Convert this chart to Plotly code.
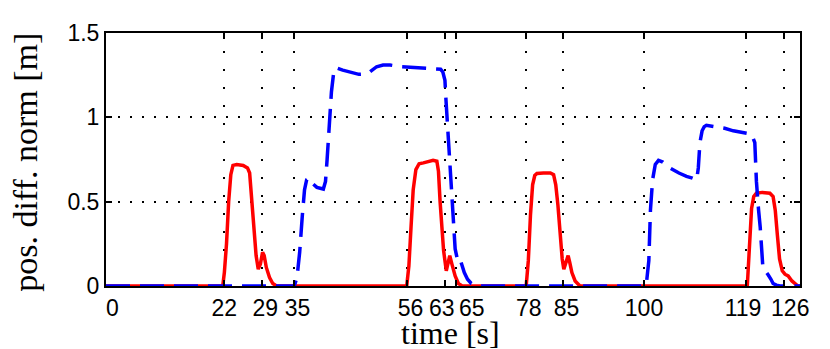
import plotly.graph_objects as go

# red solid curve: time [s], position difference norm [m]
red_t = [0, 21.7, 22.0, 22.4, 22.8, 23.2, 23.6, 24.3, 25.5, 26.3, 26.7, 27.0, 27.4, 27.9, 28.3, 28.7,
         29.1, 29.4, 29.8, 30.4, 31.0, 31.7,
         55.9, 56.3, 56.7, 57.1, 57.6, 58.2, 59.0, 60.0, 60.8, 61.5, 61.8, 62.1, 62.4, 62.75, 63.25,
         63.6, 63.9, 64.3, 64.9, 65.5, 66.2,
         78.1, 78.5, 78.9, 79.3, 79.7, 80.1, 81.3, 82.6, 83.2, 83.6, 84.0, 84.4, 84.8, 85.1, 85.5,
         85.9, 86.2, 86.6, 87.2, 88.1,
         119.2, 119.6, 120.0, 120.4, 120.9, 122.0, 123.4, 124.0, 124.4, 124.8, 125.2, 125.7, 126.2,
         126.8, 127.5, 128.6, 129]
red_v = [0, 0, 0.08, 0.25, 0.5, 0.66, 0.715, 0.72, 0.715, 0.70, 0.67, 0.55, 0.35, 0.18, 0.1, 0.13,
         0.2, 0.18, 0.11, 0.05, 0.015, 0,
         0, 0.12, 0.35, 0.57, 0.69, 0.725, 0.73, 0.74, 0.745, 0.74, 0.68, 0.5, 0.33, 0.21, 0.09,
         0.14, 0.18, 0.13, 0.06, 0.015, 0,
         0, 0.15, 0.42, 0.6, 0.655, 0.667, 0.67, 0.67, 0.66, 0.6, 0.48, 0.3, 0.16, 0.1, 0.14,
         0.18, 0.14, 0.08, 0.03, 0,
         0, 0.2, 0.46, 0.53, 0.55, 0.555, 0.55, 0.53, 0.45, 0.3, 0.16, 0.09, 0.07,
         0.06, 0.03, 0, 0]

# blue dashed curve
blue_t = [0, 35.0, 35.5, 36.0, 36.5, 36.9, 37.3, 37.7, 38.3, 39.2, 40.4, 40.8, 41.1, 41.5, 41.9,
          42.3, 42.7, 44.0, 45.5, 47.0, 48.6, 49.4, 50.3, 51.5, 52.8, 55.0, 57.0, 59.0, 61.0,
          62.2, 62.6, 63.0, 63.2, 63.5, 64.0, 64.5, 64.9, 65.3, 65.7, 66.1, 66.6, 67.2, 67.9, 69.0,
          100.1, 100.5, 100.9, 101.2, 101.6, 102.1, 102.7, 103.5, 104.8, 106.5, 107.9, 109.0, 109.8,
          110.1, 110.4, 110.8, 111.2, 111.6, 113.5, 115.0, 116.6, 118.5, 120.0, 120.6, 120.9,
          121.3, 121.6, 122.1, 122.6, 123.1, 123.6, 124.0, 124.6, 125.3, 129]
blue_v = [0, 0, 0.05, 0.2, 0.42, 0.57, 0.63, 0.64, 0.61, 0.585, 0.575, 0.62, 0.75, 0.97, 1.15,
          1.26, 1.295, 1.28, 1.265, 1.255, 1.258, 1.275, 1.30, 1.31, 1.31, 1.30, 1.295, 1.29, 1.29,
          1.285, 1.27, 1.22, 1.1, 0.95, 0.68, 0.4, 0.22, 0.16, 0.17, 0.13, 0.08, 0.04, 0.015, 0,
          0, 0.03, 0.15, 0.45, 0.63, 0.72, 0.745, 0.735, 0.70, 0.67, 0.65, 0.64, 0.63,
          0.70, 0.85, 0.92, 0.945, 0.953, 0.945, 0.935, 0.92, 0.91, 0.90, 0.85, 0.62,
          0.45, 0.35, 0.11, 0.09, 0.065, 0.04, 0.015, 0.005, 0, 0]

x_ticks = [0, 22, 29, 35, 56, 63, 65, 78, 85, 100, 119, 126]
x_tick_text = ["0", "22", "29", "35", "56", "63", "65", "78", "85", "100", "119", "126"]
y_ticks = [0, 0.5, 1, 1.5]
y_tick_text = ["0", "0.5", "1", "1.5"]

# the original labels sit a little off some ticks; nudge them with spaces
# (positive = leading spaces -> shift right, negative = trailing -> shift left)
NB = "\u00a0"
x_label_nudge = [2, 0, 1, 1, 1, -1, 5, 1, 1, 0, -1, 2]


def nudged(label, n):
    return NB * n + label if n >= 0 else label + NB * (-n)


x_tick_labels = [nudged(t, n) for t, n in zip(x_tick_text, x_label_nudge)]

fig = go.Figure()
fig.add_trace(go.Scatter(x=red_t, y=red_v, mode="lines",
                         line=dict(color="#ff0000", width=3.5)))
fig.add_trace(go.Scatter(x=blue_t, y=blue_v, mode="lines",
                         line=dict(color="#0000ff", width=3.5, dash="24px,10px")))

axis_common = dict(
    showline=True, linecolor="black", linewidth=2, mirror="ticks",
    ticks="inside", ticklen=6, tickwidth=1.5, tickcolor="black",
    showgrid=True, gridcolor="black", gridwidth=1.5,
    zeroline=False, tickangle=0,
    tickfont=dict(family="Liberation Sans", size=23, color="black"),
)

fig.update_xaxes(axis_common, range=[0, 129], tickmode="array", tickvals=x_ticks,
                 ticktext=x_tick_labels, griddash="2px,16px")
fig.update_yaxes(axis_common, range=[0, 1.5], tickmode="array", tickvals=y_ticks,
                 ticktext=y_tick_text, griddash="2px,10px")

fig.add_annotation(text="time [s]", xref="paper", yref="paper", x=0.497, y=-0.185,
                   xanchor="center", yanchor="middle", showarrow=False,
                   font=dict(family="Liberation Serif", size=32, color="black"))
fig.add_annotation(text="pos. diff. norm [m]", xref="paper", yref="paper", x=-0.117, y=0.49,
                   xanchor="center", yanchor="middle", textangle=-90, showarrow=False,
                   font=dict(family="Liberation Serif", size=34, color="black"))

# page body adds an 8px offset, so the figure is 8px smaller than the window
fig.update_layout(width=822, height=341, showlegend=False,
                  margin=dict(l=98, r=30, t=21, b=63),
                  plot_bgcolor="white", paper_bgcolor="white")

fig.write_html("out.html")
